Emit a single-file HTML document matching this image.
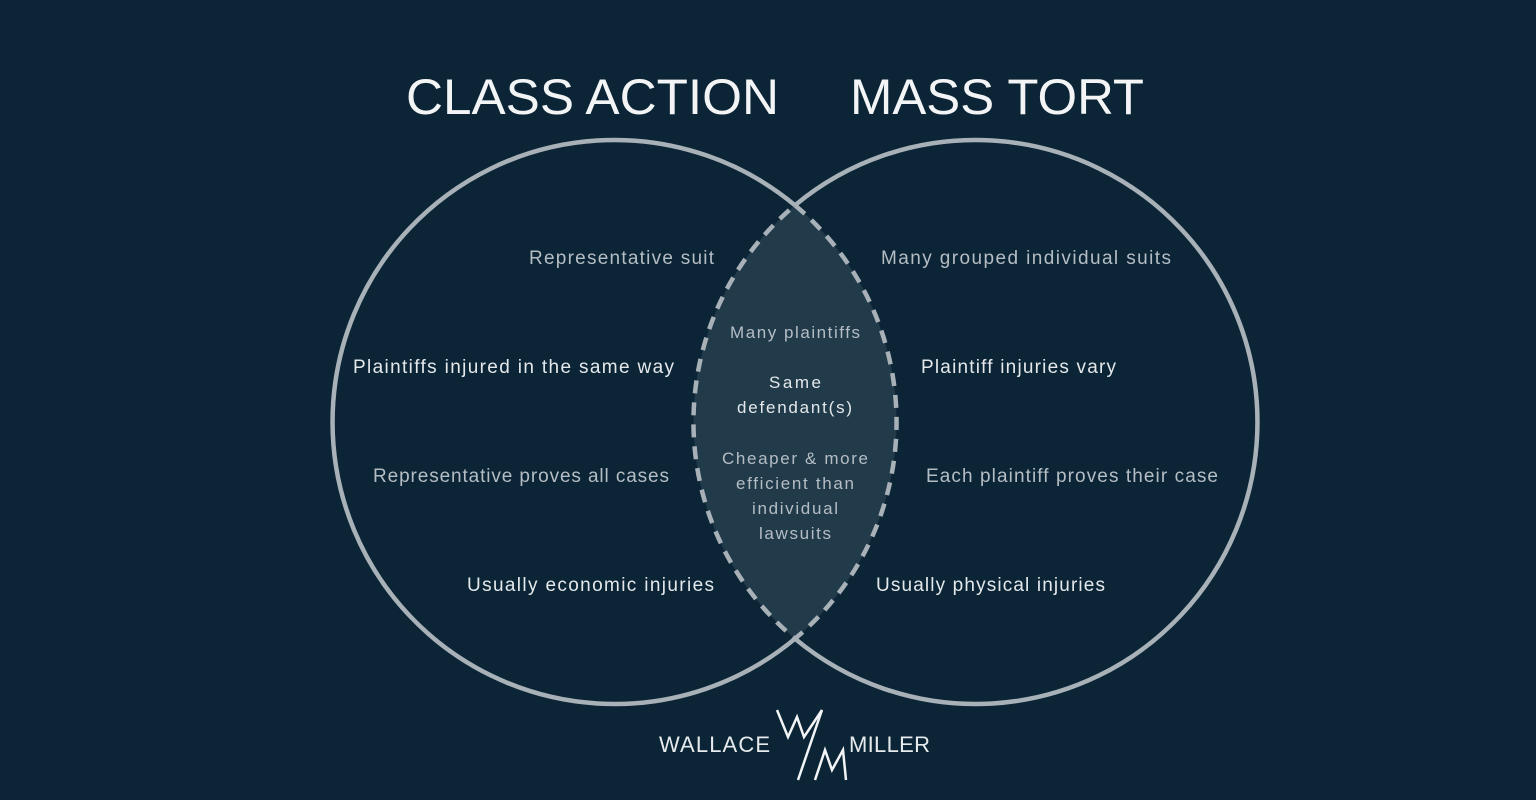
<!DOCTYPE html>
<html><head><style>
html,body{margin:0;padding:0;background:#0b2536;}
svg{display:block;}
text{font-family:"Liberation Sans",sans-serif;}
</style></head><body>
<svg width="1536" height="800" viewBox="0 0 1536 800" xmlns="http://www.w3.org/2000/svg">
<rect width="1536" height="800" fill="#0b2536"/>
<text x="406" y="114" font-size="50" fill="#f2f4f5" textLength="373" lengthAdjust="spacingAndGlyphs">CLASS ACTION</text>
<text x="850" y="114" font-size="50" fill="#f2f4f5" textLength="294" lengthAdjust="spacingAndGlyphs">MASS TORT</text>
<path d="M795,205.3 A282,282 0 0 1 795,638.7 A282,282 0 0 1 795,205.3 Z" fill="#223b4b" stroke="#a9b1b8" stroke-width="4.5" stroke-dasharray="13,9"/>
<path d="M795,205.3 A282,282 0 1 0 795,638.7" fill="none" stroke="#a9b1b8" stroke-width="4.5"/>
<path d="M795,205.3 A282,282 0 1 1 795,638.7" fill="none" stroke="#a9b1b8" stroke-width="4.5"/>
<g font-size="19" fill="#b5bdc4" lengthAdjust="spacingAndGlyphs">
<text x="529" y="264" textLength="185">Representative suit</text>
<text x="353" y="373" textLength="321" fill="#e4e8eb">Plaintiffs injured in the same way</text>
<text x="373" y="482" textLength="296">Representative proves all cases</text>
<text x="467" y="591" textLength="247" fill="#e4e8eb">Usually economic injuries</text>
<text x="881" y="264" textLength="290">Many grouped individual suits</text>
<text x="921" y="373" textLength="195" fill="#e4e8eb">Plaintiff injuries vary</text>
<text x="926" y="482" textLength="292">Each plaintiff proves their case</text>
<text x="876" y="591" textLength="229" fill="#e4e8eb">Usually physical injuries</text>
</g>
<g font-size="17" fill="#b5bdc4">
<text x="730" y="338" textLength="130">Many plaintiffs</text>
<text x="769" y="388" textLength="52" fill="#e4e8eb">Same</text>
<text x="737" y="413" textLength="115" fill="#e4e8eb">defendant(s)</text>
<text x="722" y="464" textLength="146">Cheaper &amp; more</text>
<text x="736" y="489" textLength="118">efficient than</text>
<text x="752" y="514" textLength="86">individual</text>
<text x="759" y="539" textLength="72">lawsuits</text>
</g>
<text x="659" y="752" font-size="22" fill="#e6eaed" textLength="111">WALLACE</text>
<text x="849" y="752" font-size="22" fill="#e6eaed" textLength="81">MILLER</text>
<g fill="none" stroke="#f2f4f5" stroke-width="2.5">
<polyline points="777,710 788,737 797,717 804,737 822,710"/>
<line x1="822" y1="710" x2="798" y2="780"/>
<polyline points="815,780 825,750 832,770 843,750 846,780"/>
</g>
</svg>
</body></html>
